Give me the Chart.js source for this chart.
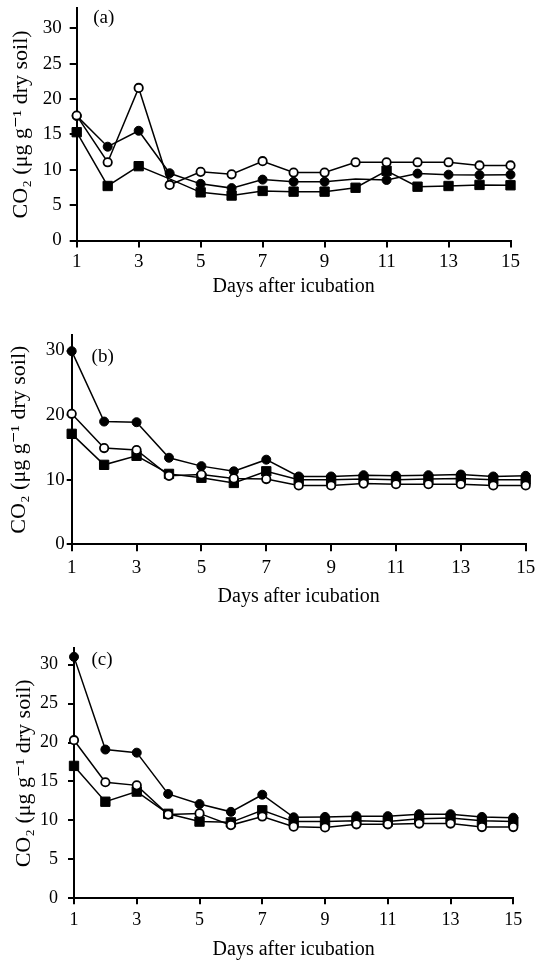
<!DOCTYPE html>
<html>
<head>
<meta charset="utf-8">
<script src="https://cdn.jsdelivr.net/npm/chart.js@4.4.1/dist/chart.umd.min.js"></script>
<style>
html, body { margin: 0; padding: 0; background: #fff; width: 540px; height: 965px; overflow: hidden; }
.panel { position: absolute; left: 0; width: 540px; }
canvas { display: block; }
</style>
</head>
<body>
<div class="panel" style="top:0px;height:300px"><canvas id="ca" width="540" height="300"></canvas></div>
<div class="panel" style="top:300px;height:320px"><canvas id="cb" width="540" height="320"></canvas></div>
<div class="panel" style="top:620px;height:345px"><canvas id="cc" width="540" height="345"></canvas></div>
<script>
// ---------- data ----------
const days = [1, 2, 3, 4, 5, 6, 7, 8, 9, 10, 11, 12, 13, 14, 15];
const xTickValues = [1, 3, 5, 7, 9, 11, 13, 15];
const yTicksA = [0, 5, 10, 15, 20, 25, 30];
const yTicksB = [0, 10, 20, 30];
const yTicksC = [0, 5, 10, 15, 20, 25, 30];

const xTitle = 'Days after icubation';
const yTitle = 'CO\u2082 (\u03bcg g\u207b\u00b9 dry soil)';
const panelNames = ['(a)', '(b)', '(c)'];

// panel (a)
const aOpen   = [17.65, 11.05, 21.55, 7.85, 9.7, 9.35, 11.2, 9.6, 9.6, 11.05, 11.05, 11.05, 11.05, 10.6, 10.6];
const aFilled = [17.6, 13.25, 15.5, 9.5, 8.0, 7.4, 8.6, 8.3, 8.3, 8.7, 8.55, 9.45, 9.3, 9.25, 9.3];
const aSquare = [15.3, 7.7, 10.5, 8.7, 6.8, 6.35, 7.0, 6.9, 6.9, 7.45, 9.85, 7.6, 7.7, 7.85, 7.8];
// panel (b)
const bOpen   = [20.2, 14.9, 14.6, 10.6, 10.8, 10.2, 10.1, 9.1, 9.1, 9.4, 9.3, 9.3, 9.3, 9.1, 9.1];
const bFilled = [29.9, 19.0, 18.9, 13.4, 12.1, 11.3, 13.1, 10.5, 10.5, 10.7, 10.6, 10.7, 10.8, 10.5, 10.6];
const bSquare = [17.1, 12.3, 13.7, 10.9, 10.3, 9.5, 11.3, 10.0, 10.0, 10.1, 10.0, 10.1, 10.2, 10.0, 10.0];
// panel (c)
const cOpen   = [20.3, 14.9, 14.5, 10.75, 10.9, 9.4, 10.5, 9.2, 9.1, 9.5, 9.5, 9.6, 9.6, 9.15, 9.15];
const cFilled = [31.0, 19.1, 18.7, 13.4, 12.1, 11.1, 13.3, 10.4, 10.45, 10.55, 10.55, 10.8, 10.8, 10.45, 10.35];
const cSquare = [17.0, 12.4, 13.7, 10.85, 9.85, 9.75, 11.3, 9.85, 9.85, 9.95, 9.85, 10.2, 10.3, 9.95, 9.85];

// ---------- rendering ----------
Chart.defaults.font.family = "'Liberation Serif', 'Times New Roman', 'DejaVu Serif', serif";
Chart.defaults.color = '#000';

const panelLabel = {
  id: 'panelLabel',
  afterDraw(chart, args, opts) {
    const ctx = chart.ctx, a = chart.chartArea;
    ctx.save();
    ctx.font = opts.size + "px 'Liberation Serif', serif";
    ctx.fillStyle = '#000';
    ctx.textAlign = 'center';
    ctx.textBaseline = 'middle';
    ctx.fillText(opts.text, a.left + opts.dx, a.top + opts.dy);
    ctx.restore();
  }
};

function radii(r, hidden) {
  return days.map((d, i) => (hidden && hidden.includes(i)) ? 0 : r);
}

function series(values, style) {
  return Object.assign({
    data: days.map((d, i) => ({ x: d, y: values[i] })),
    borderColor: '#000',
    borderWidth: 1.5,
    tension: 0,
    fill: false,
    clip: false
  }, style);
}

function makePanel(id, p) {
  new Chart(document.getElementById(id), {
    type: 'line',
    data: {
      datasets: [
        series(p.open,   { pointStyle: 'circle', pointRadius: radii(4.2, p.hideOpen), pointBackgroundColor: '#fff', pointBorderColor: '#000', pointBorderWidth: 1.8 }),
        series(p.filled, { pointStyle: 'circle', pointRadius: radii(4.5, p.hideFilled), pointBackgroundColor: '#000', pointBorderColor: '#000', pointBorderWidth: 1 }),
        series(p.square, { pointStyle: 'rect', pointRadius: radii(6.6, p.hideSquare), pointBackgroundColor: '#000', pointBorderColor: '#000', pointBorderWidth: 1 })
      ]
    },
    options: {
      responsive: false,
      animation: false,
      devicePixelRatio: 1,
      layout: { padding: { top: p.padTop, right: p.padRight, bottom: p.padBottom, left: 0 } },
      plugins: {
        legend: { display: false },
        tooltip: { enabled: false },
        panelLabel: { text: p.name, dx: p.labDx, dy: p.labDy, size: 19 }
      },
      scales: {
        x: {
          type: 'linear', min: 1, max: 15,
          afterBuildTicks: s => { s.ticks = xTickValues.map(v => ({ value: v })); },
          afterFit: s => { s.height = p.xH; s.paddingLeft = 0; s.paddingRight = 0; },
          border: { display: true, color: '#000', width: 2 },
          grid: { drawOnChartArea: false, drawTicks: true, tickLength: p.xTick, color: '#000', lineWidth: 2 },
          ticks: { color: '#000', font: { size: p.tickFont }, padding: p.xPad, maxRotation: 0, autoSkip: false },
          title: { display: true, text: xTitle, color: '#000', font: { size: 20 }, padding: { top: 0, bottom: 0 } }
        },
        y: {
          type: 'linear', min: 0, max: p.yMax,
          afterBuildTicks: s => { s.ticks = p.yTicks.map(v => ({ value: v })); },
          afterFit: s => { s.width = p.yW; s.paddingTop = 0; s.paddingBottom = 0; },
          border: { display: true, color: '#000', width: 2 },
          grid: { drawOnChartArea: false, drawTicks: true, tickLength: p.yTick, color: '#000', lineWidth: 2 },
          ticks: { color: '#000', font: { size: p.tickFont }, padding: p.yPad, autoSkip: false },
          title: { display: true, text: yTitle, color: '#000', font: { size: 22 }, padding: { top: p.yTitlePad, bottom: 0 } }
        }
      }
    },
    plugins: [panelLabel]
  });
}

makePanel('ca', {
  name: panelNames[0], open: aOpen, filled: aFilled, square: aSquare,
  hideFilled: [9], hideSquare: [3],
  padTop: 8.3, padRight: 29.5, padBottom: 1, yW: 76.7, xH: 58.5,
  yMax: 32.8, yTicks: yTicksA, yTick: 7, yPad: 8, xTick: 7, xPad: 3,
  tickFont: 19, yTitlePad: 8.4, labDx: 27, labDy: 10
});
makePanel('cb', {
  name: panelNames[1], open: bOpen, filled: bFilled, square: bSquare,
  padTop: 35, padRight: 14.3, padBottom: 11, yW: 71.7, xH: 64.7,
  yMax: 32.4, yTicks: yTicksB, yTick: 5, yPad: 2, xTick: 7, xPad: 5,
  tickFont: 19, yTitlePad: 6.1, labDx: 31, labDy: 22
});
makePanel('cc', {
  name: panelNames[2], open: cOpen, filled: cFilled, square: cSquare,
  padTop: 28.3, padRight: 26.7, padBottom: 3, yW: 74, xH: 63.7,
  yMax: 32.1, yTicks: yTicksC, yTick: 6, yPad: 10, xTick: 6, xPad: 5,
  tickFont: 18, yTitlePad: 11.1, labDx: 28, labDy: 11.7
});
</script>
</body>
</html>
